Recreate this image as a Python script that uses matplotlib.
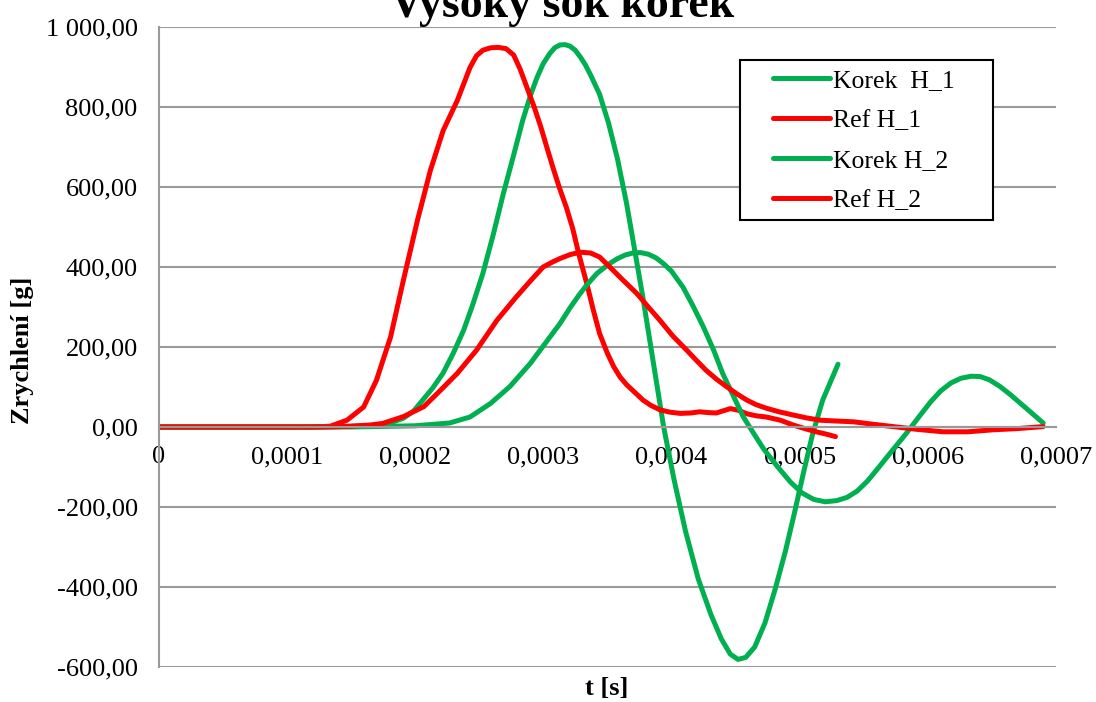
import matplotlib
matplotlib.use("Agg")
import matplotlib.pyplot as plt
from matplotlib.ticker import FuncFormatter
from matplotlib.patches import Rectangle

# cas [s] a zrychleni [g]
t_korek1 = [0, 0.00010, 0.00014, 0.00017, 0.00018, 0.000191, 0.000199, 0.000206, 0.000214,
            0.000222, 0.00023, 0.000238, 0.000245, 0.000253, 0.000261, 0.000269, 0.000277,
            0.000284, 0.00029, 0.000295, 0.0003, 0.000305, 0.000309, 0.000313, 0.000317,
            0.000321, 0.000325, 0.000329, 0.000333, 0.000337, 0.000344, 0.000351, 0.000358,
            0.000365, 0.000371, 0.000378, 0.000386, 0.000394, 0.000402, 0.000411, 0.000421,
            0.000431, 0.000439, 0.000446, 0.000452, 0.000458, 0.000465, 0.000473, 0.000481,
            0.000489, 0.000496, 0.000503, 0.00051, 0.000518, 0.00053]
a_korek1 = [0, 0, 1, 4, 9, 22, 40, 67, 98,
            135, 185, 242, 305, 384, 480, 584, 680,
            766, 828, 872, 908, 933, 948, 955, 956,
            952, 942, 925, 905, 880, 832, 760, 670,
            560, 450, 320, 160, 0, -130, -260, -380,
            -470, -530, -568, -581, -576, -550, -490, -405,
            -310, -215, -115, -20, 67, 157]

t_ref1 = [0, 0.00012, 0.000134, 0.000147, 0.00016, 0.00017, 0.000181, 0.000191, 0.000202,
          0.000212, 0.000222, 0.000233, 0.000243, 0.000248, 0.000253, 0.000259, 0.000265,
          0.000271, 0.000277, 0.000282, 0.000287, 0.000293, 0.000298, 0.000303, 0.000308,
          0.000313, 0.000318, 0.000323, 0.000328, 0.000334, 0.000339, 0.000344, 0.000350,
          0.000355, 0.000360, 0.000365, 0.000371, 0.000378, 0.000384, 0.000391, 0.000399,
          0.000407, 0.000415, 0.000422, 0.000429, 0.000435, 0.00044, 0.000446, 0.000452,
          0.000459, 0.000466, 0.000474, 0.000485, 0.000495, 0.000504, 0.000513, 0.000521,
          0.000528]
a_ref1 = [0, 0, 2, 17, 50, 117, 225, 367, 517,
          641, 741, 816, 899, 928, 942, 948, 949,
          946, 930, 895, 852, 800, 752, 698, 645,
          595, 550, 497, 430, 359, 294, 234, 185,
          151, 125, 106, 88, 67, 54, 43, 37,
          34, 35, 38, 36, 35, 40, 46, 42,
          33, 28, 25, 17, 5, -4, -12, -18,
          -24]

t_korek2 = [0, 0.00015, 0.0002, 0.000227, 0.000243, 0.000259, 0.000274, 0.00029, 0.000306,
            0.000313, 0.000321, 0.000328, 0.000334, 0.000342, 0.000352, 0.000358, 0.000364,
            0.00037, 0.000376, 0.000382, 0.000388, 0.000394, 0.0004, 0.000409, 0.000417,
            0.000425, 0.000433, 0.00044, 0.000448, 0.000456, 0.000464, 0.000472, 0.000483,
            0.000493, 0.000502, 0.000511, 0.00052, 0.000529, 0.000537, 0.000545, 0.000553,
            0.000562, 0.000572, 0.000583, 0.000593, 0.000602, 0.00061, 0.000618, 0.000626,
            0.000634, 0.000641, 0.000648, 0.000656, 0.000664, 0.000672, 0.000681, 0.00069]
a_korek2 = [0, 0, 3, 10, 25, 59, 101, 159, 228,
            258, 298, 330, 355, 384, 409, 421, 430,
            435, 436, 432, 423, 408, 390, 350, 302,
            250, 192, 134, 80, 26, -15, -55, -100,
            -138, -165, -181, -187, -184, -176, -160, -135,
            -100, -60, -17, 25, 62, 90, 110, 122,
            127, 126, 118, 102, 82, 60, 35, 10]

t_ref2 = [0, 0.00013, 0.00015, 0.000165, 0.000175, 0.000191, 0.000207, 0.00022, 0.000233,
          0.000248, 0.000264, 0.000279, 0.00029, 0.0003, 0.000307, 0.000313, 0.000321,
          0.000329, 0.000337, 0.000344, 0.000352, 0.000362, 0.000373, 0.000382, 0.000391,
          0.000401, 0.000412, 0.00042, 0.000427, 0.000435, 0.000443, 0.000451, 0.000459,
          0.000466, 0.000474, 0.000484, 0.000495, 0.000505, 0.000516, 0.000528, 0.000542,
          0.000557, 0.000573, 0.000592, 0.000612, 0.000631, 0.000651, 0.00067, 0.00069]
a_ref2 = [0, 0, 2, 5, 9, 26, 51, 92, 134,
          192, 267, 325, 365, 400, 412, 421, 431,
          437, 435, 425, 400, 368, 334, 300, 267,
          228, 192, 165, 142, 120, 101, 83, 67,
          56, 47, 38, 30, 23, 17, 15, 13,
          7, 1, -6, -12, -12, -7, -4, 1]

x_ticks = [0, 0.0001, 0.0002, 0.0003, 0.0004, 0.0005, 0.0006, 0.0007]
y_ticks = [-600, -400, -200, 0, 200, 400, 600, 800, 1000]

plt.rcParams['font.family'] = ['Liberation Serif', 'DejaVu Serif']

zelena = '#00B050'
cervena = '#FF0000'
seda = '#9a9a9a'

fig = plt.figure(figsize=(10.96, 7.02), dpi=100)
ax = fig.add_axes([158.5/1096, 1 - 667/702, (1056 - 158.5)/1096, (667 - 27)/702])

lw = 3.6
styl = dict(lw=lw, solid_capstyle='round', solid_joinstyle='round')
ax.plot(t_korek1, a_korek1, color=zelena, label='Korek  H_1', **styl)
ax.plot(t_ref1, a_ref1, color=cervena, label='Ref H_1', **styl)
ax.plot(t_korek2, a_korek2, color=zelena, label='Korek H_2', **styl)
ax.plot(t_ref2, a_ref2, color=cervena, label='Ref H_2', **styl)

ax.set_xlim(0, 0.0007)
ax.set_ylim(-600, 1000)
ax.set_xticks(x_ticks)
ax.set_yticks(y_ticks)

def fmt_y(v, pos):
    return f"{v:,.2f}".replace(',', ' ').replace('.', ',')

def fmt_x(v, pos):
    if v == 0:
        return "0"
    return f"{v:.4f}".replace('.', ',')

ax.yaxis.set_major_formatter(FuncFormatter(fmt_y))
ax.xaxis.set_major_formatter(FuncFormatter(fmt_x))

ax.grid(axis='y', color=seda, lw=1.5)
ax.set_axisbelow(True)
for s in ['top', 'right']:
    ax.spines[s].set_visible(False)
ax.spines['bottom'].set_position(('data', 0))
ax.spines['bottom'].set_color(seda)
ax.spines['bottom'].set_linewidth(1.5)
ax.spines['left'].set_color(seda)
ax.spines['left'].set_linewidth(1.5)
ax.tick_params(axis='x', length=0, pad=14, labelsize=19)
ax.tick_params(axis='y', length=0, pad=15, labelsize=19)

fig.text(23/1096, 1 - 350/702, 'Zrychlení [g]', rotation=90, fontsize=19, fontweight='bold',
         ha='center', va='center')
fig.text(607/1096, 1 - 688/702, 't [s]', fontsize=19, fontweight='bold', ha='center', va='center')
fig.text(562/1096, 1 - 17/702, 'Vysoký šok korek', fontsize=33, fontweight='bold',
         ha='center', va='baseline')

# ramecek legendy
ax.add_patch(Rectangle((740/1096, 1 - 220/702), (993 - 740)/1096, 160/702, transform=fig.transFigure,
                       facecolor='white', edgecolor='black', lw=1.5, zorder=4.5, clip_on=False))
leg = ax.legend(loc='upper left', bbox_to_anchor=(773/1096, 1 - 69/702), bbox_transform=fig.transFigure,
                frameon=False, borderpad=0, borderaxespad=0, fontsize=18.5,
                handlelength=2.2, handletextpad=0.15, labelspacing=0.66)
leg.set_zorder(5)

fig.savefig('out.png', dpi=100)
